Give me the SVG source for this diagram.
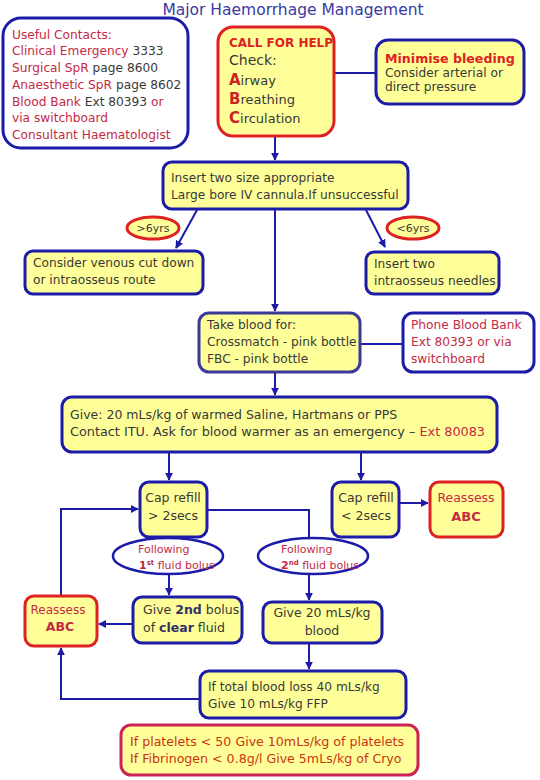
<svg xmlns="http://www.w3.org/2000/svg" width="540" height="780" viewBox="0 0 540 780">
<defs>
<marker id="ah" viewBox="0 0 10 10" refX="9" refY="5" markerWidth="4" markerHeight="4" orient="auto-start-reverse" markerUnits="strokeWidth">
<path d="M0,0 L10,5 L0,10 z" fill="#1c1ca8"/>
</marker>
<style>
.t{font-family:"DejaVu Sans",Verdana,sans-serif;font-size:12.2px;fill:#383838}
.r{fill:#c42a44}
.b{font-weight:bold}
.y{fill:#ffff99;stroke:#1c1ca8;stroke-width:3}
.yr{fill:#ffff99;stroke:#dd2222;stroke-width:3}
.w{fill:#fff;stroke:#1c1ca8;stroke-width:3}
.c{fill:none;stroke:#1c1ca8;stroke-width:2}
.ca{fill:none;stroke:#1c1ca8;stroke-width:2;marker-end:url(#ah)}
</style>
</defs>
<rect width="540" height="780" fill="#fff"/>
<text x="293" y="15" text-anchor="middle" style="font-family:'DejaVu Sans',Verdana,sans-serif;font-size:15.5px;fill:#3a3aa0">Major Haemorrhage Management</text>

<g id="connectors">
<line class="c" x1="334" y1="73" x2="376" y2="73"/>
<line class="ca" x1="275" y1="137" x2="275" y2="160"/>
<line class="ca" x1="197" y1="210" x2="176" y2="248"/>
<line class="ca" x1="366" y1="210" x2="385" y2="247"/>
<line class="ca" x1="275" y1="210" x2="275" y2="311"/>
<line class="c" x1="360" y1="344" x2="403" y2="344"/>
<line class="ca" x1="275" y1="372" x2="275" y2="395"/>
<line class="ca" x1="169" y1="452" x2="169" y2="480"/>
<line class="ca" x1="361" y1="452" x2="361" y2="480"/>
<line class="ca" x1="399" y1="503" x2="428" y2="503"/>
<line class="ca" x1="169" y1="537" x2="169" y2="595"/>
<polyline class="ca" points="207,510 309,510 309,600"/>
<line class="ca" x1="133" y1="624" x2="99" y2="624"/>
<polyline class="ca" points="61,596 61,509 138,509"/>
<line class="ca" x1="309" y1="643" x2="309" y2="669"/>
<polyline class="ca" points="200,699 61,699 61,648"/>
</g>

<g id="contacts">
<rect class="w" x="3" y="18" width="185" height="130" rx="18"/>
<text class="t r" x="12" y="39">Useful Contacts:</text>
<text class="t" x="12" y="55"><tspan class="r">Clinical Emergency</tspan> 3333</text>
<text class="t" x="12" y="72"><tspan class="r">Surgical SpR</tspan> page 8600</text>
<text class="t" x="12" y="89"><tspan class="r">Anaesthetic SpR</tspan> page 8602</text>
<text class="t" x="12" y="106"><tspan class="r">Blood Bank</tspan> Ext 80393 <tspan class="r">or</tspan></text>
<text class="t r" x="12" y="122">via switchboard</text>
<text class="t r" x="12" y="139">Consultant Haematologist</text>
</g>

<g id="callhelp">
<rect class="yr" x="218" y="27" width="116" height="109" rx="15"/>
<text class="t b" x="229" y="47" style="fill:#dd2222;font-size:12px">CALL FOR HELP</text>
<text class="t" x="229" y="65" style="font-size:14px">Check:</text>
<text class="t" x="229" y="85" style="font-size:13px"><tspan class="b" style="fill:#cc2222;font-size:15px">A</tspan>irway</text>
<text class="t" x="229" y="104" style="font-size:13px"><tspan class="b" style="fill:#cc2222;font-size:15px">B</tspan>reathing</text>
<text class="t" x="229" y="123" style="font-size:13px"><tspan class="b" style="fill:#cc2222;font-size:15px">C</tspan>irculation</text>
</g>

<g id="minimise">
<rect class="y" x="376" y="40" width="148" height="64" rx="12"/>
<text class="t b" x="385" y="63" style="fill:#dd2222;font-size:12.6px">Minimise bleeding</text>
<text class="t" x="385" y="77">Consider arterial or</text>
<text class="t" x="385" y="91">direct pressure</text>
</g>

<g id="insert">
<rect class="y" x="163" y="162" width="245" height="47" rx="9"/>
<text class="t" x="171" y="182">Insert two size appropriate</text>
<text class="t" x="171" y="199">Large bore IV cannula.If unsuccessful</text>
</g>

<g id="gt6">
<ellipse cx="153" cy="228" rx="26" ry="11" fill="#ffff99" stroke="#dd2222" stroke-width="3"/>
<text class="t" x="153" y="232" text-anchor="middle" style="font-size:11px">&gt;6yrs</text>
</g>
<g id="lt6">
<ellipse cx="413" cy="228" rx="26" ry="11" fill="#ffff99" stroke="#dd2222" stroke-width="3"/>
<text class="t" x="413" y="232" text-anchor="middle" style="font-size:11px">&lt;6yrs</text>
</g>

<g id="venous">
<rect class="y" x="25" y="251" width="178" height="43" rx="8"/>
<text class="t" x="33" y="267">Consider venous cut down</text>
<text class="t" x="33" y="284">or intraosseus route</text>
</g>

<g id="needles">
<rect class="y" x="366" y="252" width="133" height="42" rx="8"/>
<text class="t" x="374" y="268">Insert two</text>
<text class="t" x="374" y="285">intraosseus needles</text>
</g>

<g id="takeblood">
<rect x="199" y="313" width="161" height="59" rx="10" fill="#ffff99" stroke="#3a3a99" stroke-width="3"/>
<text class="t" x="207" y="329">Take blood for:</text>
<text class="t" x="207" y="346">Crossmatch - pink bottle</text>
<text class="t" x="207" y="363">FBC - pink bottle</text>
</g>

<g id="phone">
<rect class="w" x="403" y="313" width="131" height="59" rx="10"/>
<text class="t r" x="411" y="329">Phone Blood Bank</text>
<text class="t r" x="411" y="346">Ext 80393 or via</text>
<text class="t r" x="411" y="363">switchboard</text>
</g>

<g id="give">
<rect class="y" x="62" y="397" width="435" height="55" rx="10"/>
<text class="t" x="70" y="419" style="font-size:12.5px">Give: 20 mLs/kg of warmed Saline, Hartmans or PPS</text>
<text class="t" x="70" y="436" textLength="415" lengthAdjust="spacingAndGlyphs" style="font-size:12.5px">Contact ITU.  Ask for blood warmer as an emergency – <tspan class="r">Ext 80083</tspan></text>
</g>

<g id="capgt">
<rect class="y" x="140" y="482" width="67" height="55" rx="9"/>
<text class="t" x="173" y="502" text-anchor="middle" style="font-size:12.5px">Cap refill</text>
<text class="t" x="173" y="520" text-anchor="middle" style="font-size:12.5px">&gt; 2secs</text>
</g>

<g id="caplt">
<rect class="y" x="332" y="482" width="67" height="55" rx="9"/>
<text class="t" x="366" y="502" text-anchor="middle" style="font-size:12.5px">Cap refill</text>
<text class="t" x="366" y="520" text-anchor="middle" style="font-size:12.5px">&lt; 2secs</text>
</g>

<g id="reassess1">
<rect class="yr" x="430" y="482" width="73" height="55" rx="9"/>
<text class="t r" x="466" y="502" text-anchor="middle" style="font-size:12.5px">Reassess</text>
<text class="t r b" x="466" y="521" text-anchor="middle" style="font-size:13px">ABC</text>
</g>

<g id="follow1">
<ellipse cx="168" cy="556" rx="55" ry="18" fill="#fff" stroke="#1c1ca8" stroke-width="2.5"/>
<text class="t r" x="138" y="553" style="font-size:11px">Following</text>
<text class="t r" x="139" y="569" style="font-size:11px"><tspan class="b">1<tspan dy="-4" style="font-size:7px">st</tspan></tspan><tspan dy="4"> fluid bolus</tspan></text>
</g>

<g id="follow2">
<ellipse cx="313" cy="556" rx="55" ry="18" fill="#fff" stroke="#1c1ca8" stroke-width="2.5"/>
<text class="t r" x="281" y="553" style="font-size:11px">Following</text>
<text class="t r" x="281" y="569" style="font-size:11px"><tspan class="b">2<tspan dy="-4" style="font-size:7px">nd</tspan></tspan><tspan dy="4"> fluid bolus</tspan></text>
</g>

<g id="give2nd">
<rect class="y" x="133" y="597" width="109" height="46" rx="9"/>
<text class="t" x="143" y="614" style="font-size:12.5px">Give <tspan class="b" style="fill:#333366">2nd</tspan> bolus</text>
<text class="t" x="143" y="632" style="font-size:12.5px">of <tspan class="b" style="fill:#333366">clear</tspan> fluid</text>
</g>

<g id="give20">
<rect class="y" x="263" y="602" width="119" height="41" rx="9"/>
<text class="t" x="322" y="617" text-anchor="middle" style="font-size:12.5px">Give 20 mLs/kg</text>
<text class="t" x="322" y="635" text-anchor="middle" style="font-size:12.5px">blood</text>
</g>

<g id="reassess2">
<rect class="yr" x="25" y="596" width="72" height="50" rx="9"/>
<text class="t r" x="58" y="614" text-anchor="middle" style="font-size:12px">Reassess</text>
<text class="t r b" x="60" y="631" text-anchor="middle" style="font-size:12.5px">ABC</text>
</g>

<g id="iftotal">
<rect class="y" x="200" y="671" width="206" height="47" rx="9"/>
<text class="t" x="208" y="691">If total blood loss 40 mLs/kg</text>
<text class="t" x="208" y="708">Give  10 mLs/kg FFP</text>
</g>

<g id="platelets">
<rect x="121" y="725" width="297" height="50" rx="10" fill="#ffff99" stroke="#cc2255" stroke-width="3"/>
<text class="t" x="130" y="746" style="fill:#cc3311;font-size:12.6px">If platelets  &lt; 50 Give 10mLs/kg  of platelets</text>
<text class="t" x="130" y="763" style="fill:#cc3311;font-size:12.6px">If Fibrinogen &lt; 0.8g/l Give 5mLs/kg of Cryo</text>
</g>
</svg>
